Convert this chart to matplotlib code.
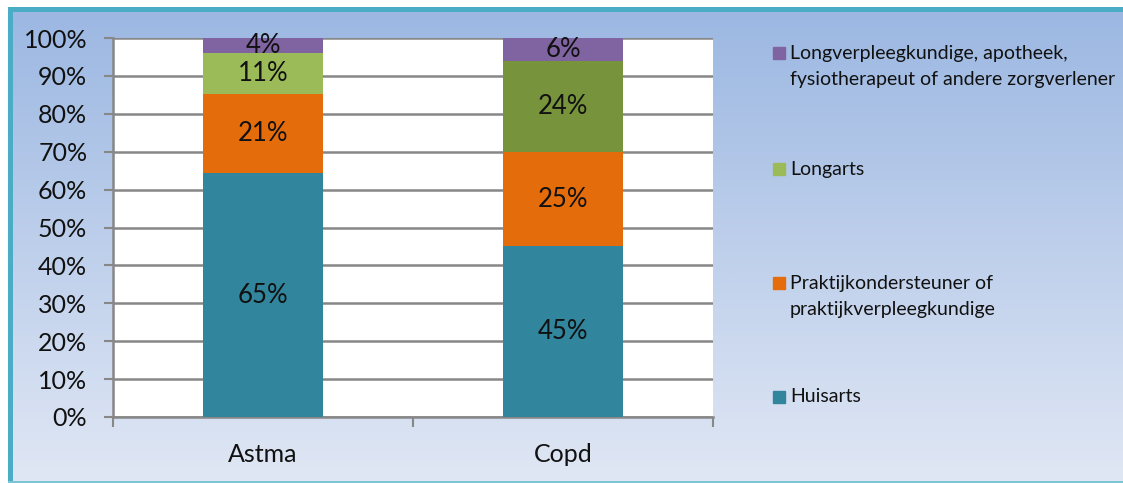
import numpy as np
import matplotlib
matplotlib.use("Agg")
import matplotlib.pyplot as plt
from matplotlib.patches import Rectangle

plt.rcParams['font.family'] = ['Lato', 'DejaVu Sans']

categories = ["Astma", "Copd"]
series = ["Huisarts",
          "Praktijkondersteuner of\npraktijkverpleegkundige",
          "Longarts",
          "Longverpleegkundige, apotheek,\nfysiotherapeut of andere zorgverlener"]
huisarts = [65, 45]
praktijk = [21, 25]
longarts = [11, 24]
overig = [4, 6]
yticks = [0, 10, 20, 30, 40, 50, 60, 70, 80, 90, 100]

colors = ["#31859C", "#E46C0A", "#9BBB59", "#8064A2"]
longarts_colors = ["#9BBB59", "#77933C"]

W, H = 1123, 483
fig = plt.figure(figsize=(W / 100, H / 100), dpi=100)

# gradient background with a teal frame on the left, top and bottom
bg = fig.add_axes([0, 0, 1, 1], zorder=0)
bg.set_axis_off()
top = np.array([155, 183, 226]) / 255
bot = np.array([224, 231, 244]) / 255
t = np.linspace(0, 1, 256)[:, None]
grad = top[None, :] * (1 - t) + bot[None, :] * t
bg.imshow(np.repeat(grad[:, None, :], 4, axis=1), aspect='auto',
          extent=[8, W + 20, 481, 7], zorder=0, interpolation='bilinear')
bg.set_xlim(0, W)
bg.set_ylim(H, 0)
bg.add_patch(Rectangle((8, 7), 5, 476, color="#4BACC6", lw=0, zorder=2))
bg.add_patch(Rectangle((8, 7), W + 20, 5, color="#4BACC6", lw=0, zorder=2))
bg.add_patch(Rectangle((8, 481), W + 20, 2, color="#7CC3D6", lw=0, zorder=2))

ax = fig.add_axes([113 / W, 1 - 417 / H, 600 / W, 379 / H], zorder=1)
ax.set_facecolor("white")

raw = np.array([huisarts, praktijk, longarts, overig], dtype=float)
share = raw / raw.sum(axis=0) * 100
x = np.arange(len(categories))
bottom = np.zeros(len(categories))
for i, name in enumerate(series):
    col = longarts_colors if i == 2 else colors[i]
    ax.bar(x, share[i], 0.4, bottom=bottom, color=col, zorder=3, label=name)
    for j in range(len(categories)):
        ax.text(x[j], bottom[j] + share[i][j] / 2, f"{raw[i][j]:.0f}%",
                ha="center", va="center", fontsize=18.5, color="#111111", zorder=4)
    bottom += share[i]

ax.set_xlim(-0.5, 1.5)
ax.set_ylim(0, 100)
ax.set_yticks(yticks)
ax.set_yticklabels([f"{v}%" for v in yticks], fontsize=18, color="#111111")
ax.yaxis.grid(True, color="#878787", lw=1.8, zorder=1)
ax.set_axisbelow(True)
ax.set_xticks(x)
ax.set_xticklabels(categories, fontsize=18, color="#111111")
ax.tick_params(axis="x", which="major", length=0, pad=19)
ax.set_xticks([-0.5, 0.5, 1.5], minor=True)
ax.tick_params(axis="x", which="minor", length=7, width=1.5, color="#878787")
ax.tick_params(axis="y", length=6.5, width=1.5, color="#878787", pad=12)
for s in ["top", "right"]:
    ax.spines[s].set_visible(False)
for s in ["left", "bottom"]:
    ax.spines[s].set_color("#878787")
    ax.spines[s].set_linewidth(1.8)

# legend drawn in pixel coordinates on the background axes
leg_rows = [(3, 53), (2, 169), (1, 283), (0, 397)]
for idx, yc in leg_rows:
    bg.add_patch(Rectangle((773, yc - 6), 12, 12, color=colors[idx], zorder=3))
    for k, line in enumerate(series[idx].split("\n")):
        bg.text(790, yc + 27 * k, line, ha="left", va="center", fontsize=14,
                color="#111111", zorder=3)

fig.savefig("out.png", dpi=100)
